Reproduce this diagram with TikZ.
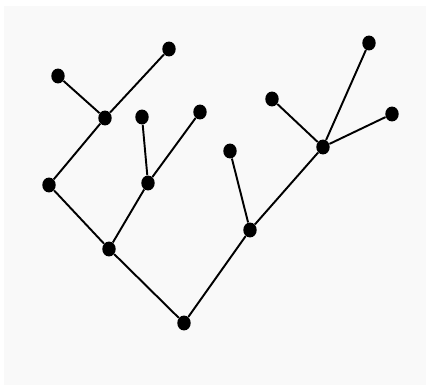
\documentclass[tikz,border=0pt]{standalone}
\usepackage{xcolor}
\usetikzlibrary{positioning}
\definecolor{cInk}{HTML}{000000}
\definecolor{cBack}{HTML}{F9F9F9}
\tikzset{
  vtx/.style={circle,fill=cInk,draw=none,inner sep=0pt,minimum width=8.5pt,minimum height=8.5pt,xscale=0.9},
  edg/.style={line width=1.1pt,color=cInk},
}

\begin{document}
\begin{tikzpicture}[x=0.02cm,y=-0.02cm]
        \useasboundingbox (0,0) rectangle (426,385);
        \fill[cBack] (4,6) rectangle (426,385);
        % left subtree
        \node[vtx] (r) at (184,323) {};
        \node[vtx] (a) at (109,249) {};
        \node[vtx] (c) at (49,185) {};
        \node[vtx] (e) at (105,118) {};
        \node[vtx] (f) at (169,49) {};
        \node[vtx] (g) at (58,76) {};
        \node[vtx] (d) at (148,183) {};
        \node[vtx] (h) at (142,117) {};
        \node[vtx] (i) at (200,112) {};
        % right subtree
        \node[vtx] (b) at (250,230) {};
        \node[vtx] (j) at (230,151) {};
        \node[vtx] (k) at (323,147) {};
        \node[vtx] (l) at (272,99) {};
        \node[vtx] (m) at (369,43) {};
        \node[vtx] (n) at (392,114) {};
        \draw[edg] (r) -- (a) -- (c) -- (e) -- (f);
        \draw[edg] (e) -- (g);
        \draw[edg] (a) -- (d) -- (i);
        \draw[edg] (d) -- (h);
        \draw[edg] (r) -- (b) -- (k) -- (m);
        \draw[edg] (b) -- (j);
        \draw[edg] (k) -- (l);
        \draw[edg] (k) -- (n);
      \end{tikzpicture}
\end{document}
